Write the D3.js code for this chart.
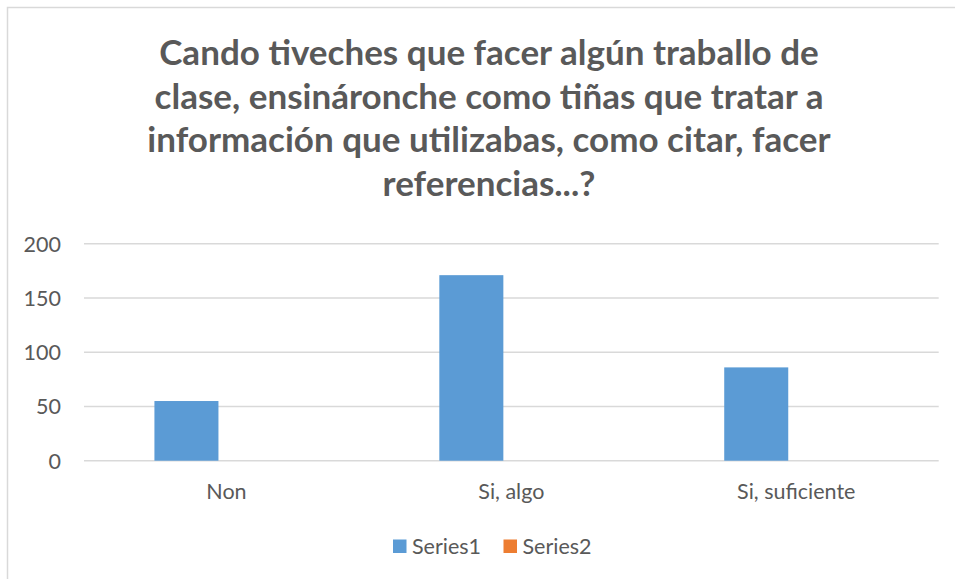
<!DOCTYPE html>
<html>
<head>
<meta charset="utf-8">
<script src="https://cdn.jsdelivr.net/npm/d3@7"></script>
<style>
  html, body { margin: 0; padding: 0; background: #fff; }
  svg { display: block; }
</style>
</head>
<body>
<svg id="chart"></svg>
<script>
const width = 955;
const height = 579;
const titleLines = [
  "Cando tiveches que facer algún traballo de",
  "clase, ensináronche como tiñas que tratar a",
  "información que utilizabas, como citar, facer",
  "referencias...?"
];
const categories = ["Non", "Si, algo", "Si, suficiente"];
const seriesNames = ["Series1", "Series2"];
const series1 = [55, 171, 86];
const series2 = [0, 0, 0];
const yTicks = [0, 50, 100, 150, 200];
const colors = ["#5b9bd5", "#ed7d31"];

const textColor = "#595959";
const gridColor = "#d9d9d9";
const font = "Lato, 'Open Sans', sans-serif";
const labelSize = "21.5px";
const margin = {top: 243.7, right: 16.3, bottom: 118.3, left: 84};

const svg = d3.select("#chart")
    .attr("width", width)
    .attr("height", height);

// chart frame (only top / left edges show in the picture)
svg.append("rect")
    .attr("x", 7.5).attr("y", 7.5)
    .attr("width", width + 10).attr("height", height + 10)
    .attr("fill", "#fff")
    .attr("stroke", gridColor)
    .attr("stroke-width", 1.5);

// title
const title = svg.append("g").attr("id", "title");
title.selectAll("text")
  .data(titleLines)
  .enter()
  .append("text")
    .attr("x", 489)
    .attr("y", (d, i) => 65 + i * 43.5)
    .attr("text-anchor", "middle")
    .attr("font-family", font)
    .attr("font-weight", "bold")
    .attr("font-size", "30px")
    .attr("fill", textColor)
    .text(d => d);

// fit the title to the reference width of its first line
const firstLen = title.select("text").node().getComputedTextLength();
const titleSize = 30 * 660 / firstLen;
title.selectAll("text").attr("font-size", titleSize + "px");

const x0 = d3.scaleBand(categories, [margin.left, width - margin.right]);
const x1 = d3.scaleBand(seriesNames, [0, x0.bandwidth()])
    .paddingInner(0.2)
    .paddingOuter(0.88);
const y = d3.scaleLinear([0, 200], [height - margin.bottom, margin.top]);

// gridlines
svg.append("g").attr("id", "grid")
  .selectAll("line")
  .data(yTicks)
  .enter()
  .append("line")
    .attr("x1", margin.left)
    .attr("x2", width - margin.right)
    .attr("y1", d => y(d))
    .attr("y2", d => y(d))
    .attr("stroke", gridColor)
    .attr("stroke-width", 1.5);

// y axis labels
const yAxis = g => g
    .attr("transform", `translate(${margin.left - 23},0)`)
    .call(d3.axisLeft(y).tickValues(yTicks).tickSize(0).tickPadding(0))
    .call(g => g.select(".domain").remove())
    .call(g => g.selectAll("text")
        .attr("fill", textColor)
        .attr("font-family", font)
        .attr("font-size", labelSize)
        .attr("dy", "0.35em"));
svg.append("g").attr("id", "yAxis").call(yAxis);

// bars
const rows = categories.map((c, i) => ({cat: c, values: [series1[i], series2[i]]}));
svg.append("g").attr("id", "bars")
  .selectAll("g")
  .data(rows)
  .enter()
  .append("g")
    .attr("transform", d => `translate(${x0(d.cat)},0)`)
  .selectAll("rect")
  .data(d => d.values.map((v, i) => ({name: seriesNames[i], value: v, i: i})))
  .enter()
  .append("rect")
    .attr("x", d => x1(d.name))
    .attr("width", x1.bandwidth())
    .attr("y", d => y(d.value))
    .attr("height", d => y(0) - y(d.value))
    .attr("fill", d => colors[d.i]);

// x axis labels
const xAxis = g => g
    .attr("transform", `translate(0,${y(0) + 31})`)
    .call(d3.axisBottom(x0).tickSize(0).tickPadding(0))
    .call(g => g.select(".domain").remove())
    .call(g => g.selectAll("text")
        .attr("fill", textColor)
        .attr("font-family", font)
        .attr("font-size", labelSize)
        .attr("dy", "0.35em"));
svg.append("g").attr("id", "xAxis").call(xAxis);

// legend
const legendX = [393, 503.5];
const legend = svg.append("g").attr("id", "legend");
const item = legend.selectAll("g")
  .data(seriesNames)
  .enter()
  .append("g")
    .attr("transform", (d, i) => `translate(${legendX[i]},539.5)`);
item.append("rect")
    .attr("width", 13.5).attr("height", 13.5)
    .attr("fill", (d, i) => colors[i]);
item.append("text")
    .attr("x", 19)
    .attr("y", 7)
    .attr("dy", "0.35em")
    .attr("fill", textColor)
    .attr("font-family", font)
    .attr("font-size", labelSize)
    .text(d => d);
</script>
</body>
</html>
